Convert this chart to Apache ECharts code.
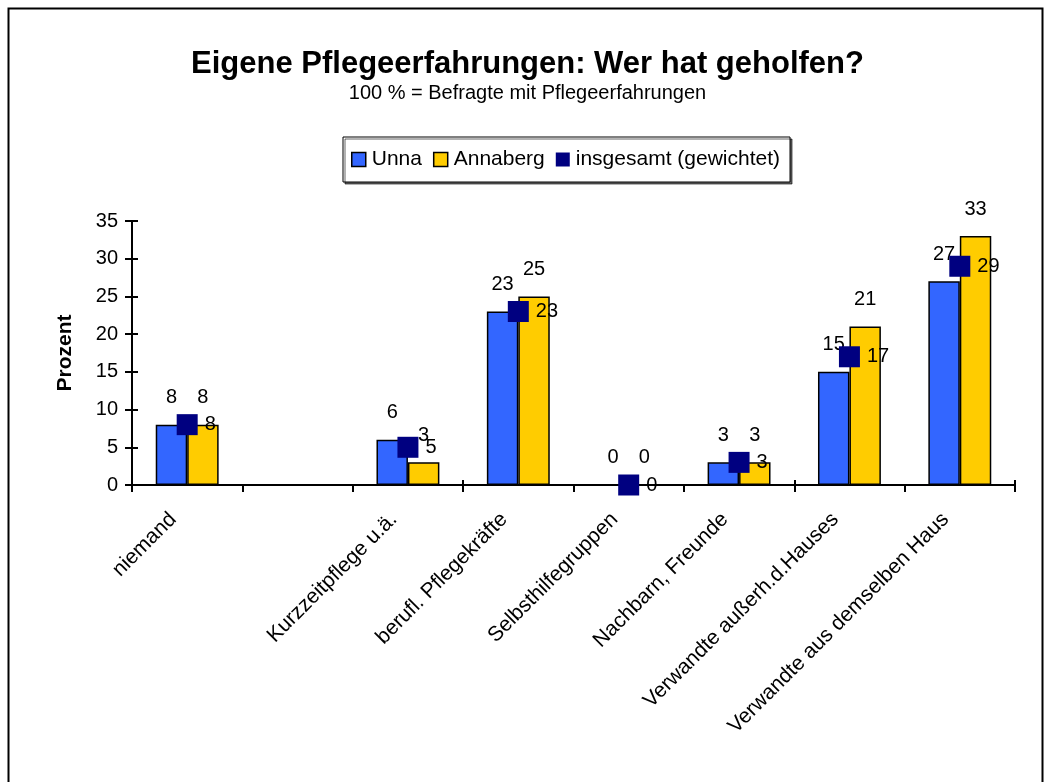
<!DOCTYPE html>
<html><head><meta charset="utf-8">
<script src="https://cdn.jsdelivr.net/npm/echarts@6/dist/echarts.min.js"></script>
<style>html,body{margin:0;padding:0;background:#fff}#c{width:1055px;height:782px}</style>
</head><body><div id="c"></div>
<script>
const categories = ['niemand', '', 'Kurzzeitpflege u.ä.', 'berufl. Pflegekräfte', 'Selbsthilfegruppen', 'Nachbarn, Freunde', 'Verwandte außerh.d.Hauses', 'Verwandte aus demselben Haus'];
const unna = [8, null, 6, 23, 0, 3, 15, 27];
const annaberg = [8, null, 3, 25, 0, 3, 21, 33];
const insgesamt = [8, null, 5, 23, 0, 3, 17, 29];
const yTicks = {min: 0, max: 35, interval: 5};

const font = 'Liberation Sans, Arial, sans-serif';
const chart = echarts.init(document.getElementById('c'));
const barLabel = {show: true, position: 'top', distance: 17, color: '#000', fontSize: 20, fontFamily: font};
const tickStyle = {color: '#000', width: 2};
chart.setOption({
  animation: false,
  textStyle: {fontFamily: font},
  graphic: [{type: 'rect', shape: {x: 8.5, y: 8.5, width: 1034, height: 790}, style: {fill: 'none', stroke: '#000', lineWidth: 2}}],
  title: {
    text: 'Eigene Pflegeerfahrungen: Wer hat geholfen?',
    subtext: '100 % = Befragte mit Pflegeerfahrungen',
    left: 'center', top: 44, itemGap: 3,
    textStyle: {fontSize: 31, fontWeight: 'bold', color: '#000', fontFamily: font},
    subtextStyle: {fontSize: 20, color: '#000', fontFamily: font}
  },
  legend: {
    left: 343, top: 137, padding: [12, 10, 12, 8], itemGap: 11,
    borderColor: '#000', borderWidth: 1,
    shadowColor: 'rgba(0,0,0,0.6)', shadowOffsetX: 2, shadowOffsetY: 2, backgroundColor: '#fff',
    itemWidth: 14, itemHeight: 14, itemStyle: {borderColor: '#000', borderWidth: 1.5},
    icon: 'rect',
    textStyle: {fontSize: 21, color: '#000', fontFamily: font, padding: [0, 0, 0, 1]},
    data: ['Unna', 'Annaberg', {name: 'insgesamt (gewichtet)', itemStyle: {borderWidth: 0}}]
  },
  grid: {left: 132, right: 40, top: 221, bottom: 297},
  xAxis: [{
    type: 'category', data: categories,
    axisLine: {lineStyle: {color: '#000', width: 2}},
    axisTick: {show: true, length: 7, lineStyle: tickStyle},
    axisLabel: {interval: 0, rotate: 45, fontSize: 21, color: '#000', margin: 17, padding: [0, 20, 0, 0], fontFamily: font}
  }, {
    type: 'category', data: categories, position: 'bottom',
    axisLine: {show: false}, axisLabel: {show: false},
    axisTick: {show: true, inside: true, length: 5, lineStyle: tickStyle}
  }],
  yAxis: [{
    type: 'value', min: yTicks.min, max: yTicks.max, interval: yTicks.interval,
    name: 'Prozent', nameLocation: 'middle', nameGap: 56, nameRotate: 90,
    nameTextStyle: {fontSize: 21, fontWeight: 'bold', color: '#000', fontFamily: font},
    splitLine: {show: false},
    axisLine: {show: true, lineStyle: {color: '#000', width: 2}},
    axisTick: {show: true, length: 7, lineStyle: tickStyle},
    axisLabel: {fontSize: 20, color: '#000', margin: 14, fontFamily: font}
  }, {
    type: 'value', min: yTicks.min, max: yTicks.max, interval: yTicks.interval, position: 'left',
    splitLine: {show: false}, axisLine: {show: false}, axisLabel: {show: false},
    axisTick: {show: true, inside: true, length: 6, lineStyle: tickStyle}
  }],
  series: [
    {name: 'Unna', type: 'bar', data: unna, barGap: '0%', barCategoryGap: '43%',
     itemStyle: {color: '#3366FF', borderColor: '#000', borderWidth: 1.5}, label: barLabel},
    {name: 'Annaberg', type: 'bar', data: annaberg,
     itemStyle: {color: '#FFCC00', borderColor: '#000', borderWidth: 1.5}, label: barLabel},
    {name: 'insgesamt (gewichtet)', type: 'scatter', data: insgesamt, symbol: 'rect', symbolSize: 21, z: 5,
     itemStyle: {color: '#000080', opacity: 1},
     label: {show: true, position: 'right', distance: 7, color: '#000', fontSize: 20, fontFamily: font}}
  ]
});
</script></body></html>
